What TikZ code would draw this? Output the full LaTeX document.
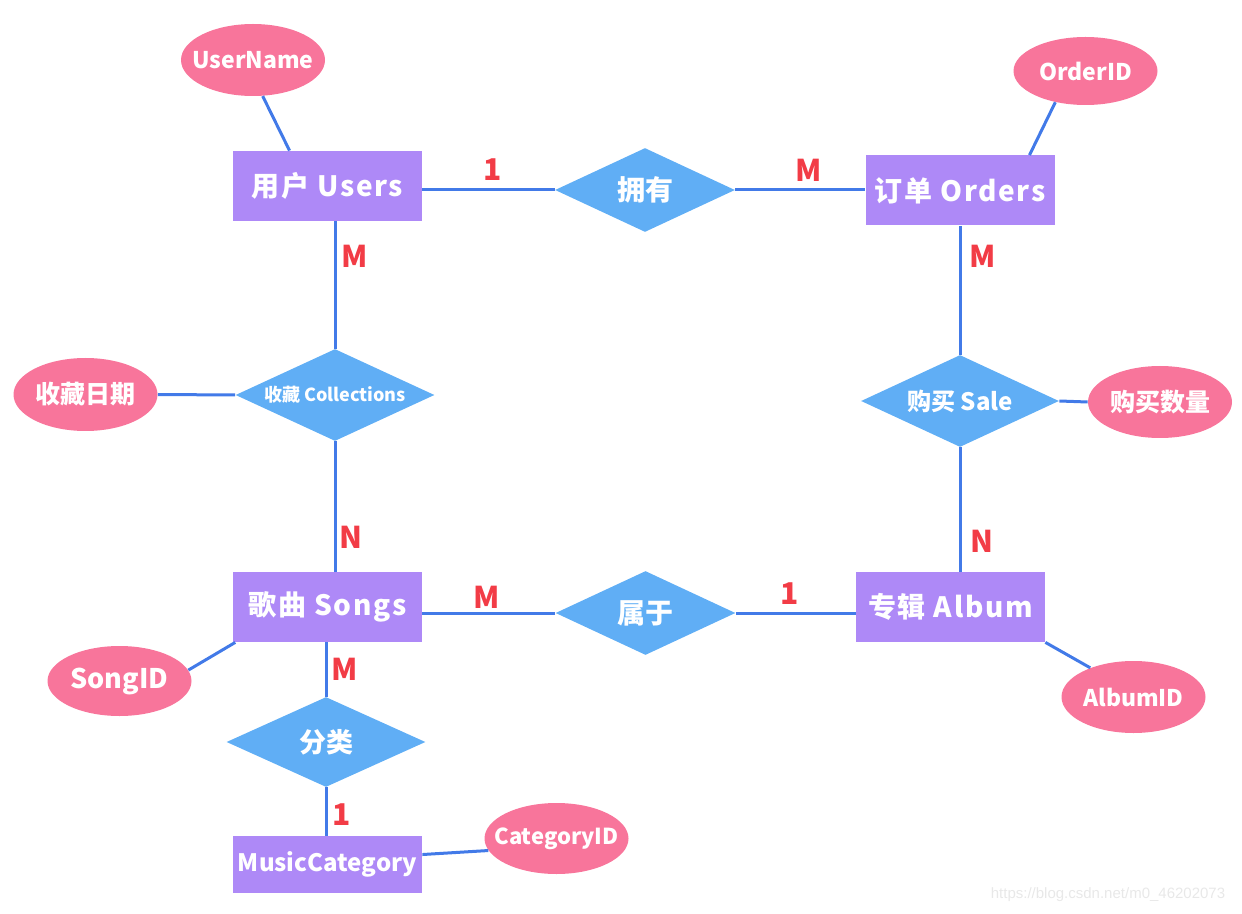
\documentclass[tikz,border=0pt]{standalone}
\usepackage{fontspec}
\setmainfont{Noto Sans CJK SC}
\newfontfamily\spacedfont{Noto Sans CJK SC}[LetterSpace=6]
\newfontfamily\markfont{Liberation Sans}
\usetikzlibrary{shapes.geometric}
\definecolor{entityfill}{RGB}{174,137,247}
\definecolor{relfill}{RGB}{96,174,245}
\definecolor{attrfill}{RGB}{248,117,155}
\definecolor{linkcolor}{RGB}{66,122,232}
\definecolor{cardcolor}{RGB}{242,60,70}
\begin{document}
\begin{tikzpicture}%
	[
	x=0.5pt,
	y=-0.5pt,
	entity/.style={rectangle, fill=entityfill, text=white, minimum width=94.5pt, minimum height=35pt, inner sep=0pt, font=\spacedfont\bfseries\fontsize{14}{16}\selectfont},
	relation/.style={diamond, fill=relfill, text=white, minimum width=90pt, minimum height=42pt, inner sep=0pt, aspect=2.2, font=\bfseries\fontsize{14}{16}\selectfont},
	attribute/.style={ellipse, fill=attrfill, text=white, minimum width=72pt, minimum height=36pt, inner xsep=-40pt, inner ysep=0pt, font=\bfseries\fontsize{11.5}{14}\selectfont},
	link/.style={color=linkcolor, line width=1.5pt},
	card/.style={text=cardcolor, inner sep=0pt, font=\bfseries\fontsize{15}{17}\selectfont}]

\useasboundingbox (0,0) rectangle (1242,914);

\node[entity] (users) at (327.5,186) {用户 Users};
\node[entity] (orders) at (960,190.5) {订单 Orders};
\node[entity] (songs) at (327.5,607) {歌曲 Songs};
\node[entity] (album) at (950.5,607) {专辑 Album};
\node[entity, minimum height=28.5pt, font=\bfseries\fontsize{12}{14}\selectfont] (musiccategory) at (327.5,864.5) {MusicCategory};

\node[relation] (own) at (645,190) {拥有};
\node[relation] (belong) at (645.5,613) {属于};
\node[relation, minimum width=99.5pt, minimum height=46pt, font=\bfseries\fontsize{9}{11}\selectfont] (collect) at (335,395) {收藏 Collections};
\node[relation, minimum width=99pt, minimum height=46pt, font=\bfseries\fontsize{12}{14}\selectfont] (sale) at (960,401) {购买 Sale};
\node[relation, minimum width=99.5pt, minimum height=45pt, font=\bfseries\fontsize{13.5}{15}\selectfont] (classify) at (326,742) {分类};

\node[attribute] (username) at (253,60) {UserName};
\node[attribute, minimum height=34pt] (orderid) at (1085.5,71) {OrderID};
\node[attribute, minimum height=36.5pt, font=\bfseries\fontsize{12.5}{14}\selectfont] (collectdate) at (85.5,394.5) {收藏日期};
\node[attribute, font=\bfseries\fontsize{12.5}{14}\selectfont] (salecount) at (1160,402) {购买数量};
\node[attribute, minimum height=35pt, font=\bfseries\fontsize{13.5}{15}\selectfont] (songid) at (119.5,681) {SongID};
\node[attribute] (albumid) at (1133.5,697) {AlbumID};
\node[attribute, minimum height=35.5pt, font=\bfseries\fontsize{11}{13}\selectfont] (categoryid) at (556.5,838.5) {CategoryID};

\draw[link] (username.-75) -- (users.137);
\draw[link] (orderid.-134) -- (orders.27);
\draw[link] (users.east |- own.west) -- (own.west);
\draw[link] (own.east) -- (orders.west |- own.east);
\draw[link] (collect.north) -- (collect.north |- users.south);
\draw[link] (collect.south) -- (collect.south |- songs.north);
\draw[link] (collectdate.east) -- (collect.west);
\draw[link] (orders.south) -- (sale.north);
\draw[link] (sale.east) -- (salecount.west);
\draw[link] (sale.south) -- (sale.south |- album.north);
\draw[link] (songs.east |- belong.west) -- (belong.west);
\draw[link] (belong.east) -- (belong.east -| album.west);
\draw[link] (songid.9) -- (songs.-159);
\draw[link] (albumid.146) -- (album.south east);
\draw[link] (classify.north) -- (classify.north |- songs.south);
\draw[link] (classify.south) -- (classify.south |- musiccategory.north);
\draw[link] (musiccategory.6) -- (categoryid.190);

\node[card] (owncard1) at (493,170) {1};
\node[card] (owncardm) at (809,170) {M};
\node[card] (collectcardm) at (355,256) {M};
\node[card] (collectcardn) at (351,537) {N};
\node[card] (salecardm) at (983,256) {M};
\node[card] (salecardn) at (982,541) {N};
\node[card] (belongcardm) at (487,597) {M};
\node[card] (belongcard1) at (790,594) {1};
\node[card] (classifycardm) at (345,669) {M};
\node[card] (classifycard1) at (342,815) {1};

\node[text=black!9, font=\markfont\fontsize{7.5}{9}\selectfont] (watermark) at (1108,895) {https://blog.csdn.net/m0\_46202073};
\end{tikzpicture}
\end{document}
